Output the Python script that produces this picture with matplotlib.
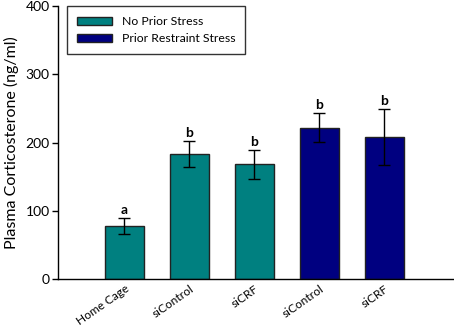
import numpy as np
from matplotlib import pyplot as plt

#   data
labels = ['Home Cage', 'siControl', 'siCRF', 'siControl', 'siCRF']
means = [78, 183, 168, 222, 208]
errors = [12, 19, 21, 21, 41]
letters = ['a', 'b', 'b', 'b', 'b']
groups = [0, 0, 0, 1, 1]

group_names = ['No Prior Stress', 'Prior Restraint Stress']
group_colors = ['#008080', '#000080']

plt.rcParams['font.family'] = ['Lato', 'DejaVu Sans']


def main():
    fig = plt.figure(figsize=(4.54, 3.26), dpi=100)
    ax = fig.add_axes([0.128, 0.144, 0.870, 0.837])

    x = np.arange(len(labels))
    colors = [group_colors[g] for g in groups]
    ax.bar(x, means, width=0.6, color=colors, edgecolor='#222222',
           linewidth=1.0, zorder=2)
    ax.errorbar(x, means, yerr=errors, fmt='none', ecolor='black',
                elinewidth=1.0, capsize=4.5, capthick=1.0, zorder=3)

    #   significance letters
    for xi, m, e, t in zip(x, means, errors, letters):
        ax.text(xi, m + e + 3, t, ha='center', va='bottom',
                fontsize=10, fontweight='bold')

    #   legend handles
    for name, c in zip(group_names, group_colors):
        ax.bar([np.nan], [np.nan], color=c, edgecolor='#222222',
               linewidth=1.0, label=name)
    leg = ax.legend(loc='upper left', bbox_to_anchor=(0.022, 1.0),
                    fontsize=8.8, frameon=True, fancybox=False,
                    handlelength=2.9, handleheight=0.6, borderpad=0.8,
                    labelspacing=0.5, handletextpad=0.8, borderaxespad=0.0)
    leg.get_frame().set_edgecolor('black')
    leg.get_frame().set_linewidth(1.0)

    #   axes
    ax.set_ylim(0, 400)
    ax.set_xlim(-1.02, 5.06)
    ax.set_yticks([0, 100, 200, 300, 400])
    ax.set_xticks(x)
    ax.set_xticklabels(labels, rotation=35, ha='right', va='top',
                       rotation_mode='anchor', fontsize=8.6)
    ax.tick_params(axis='x', length=0, pad=3)
    ax.tick_params(axis='y', direction='out', length=4, width=1.0,
                   labelsize=10, pad=2)
    ax.set_ylabel('Plasma Corticosterone (ng/ml)', fontsize=11.5, labelpad=5)

    for side in ['top', 'right']:
        ax.spines[side].set_visible(False)
    for side in ['left', 'bottom']:
        ax.spines[side].set_linewidth(1.0)

    fig.savefig('out.png', dpi=100)


if __name__ == '__main__':
    main()
